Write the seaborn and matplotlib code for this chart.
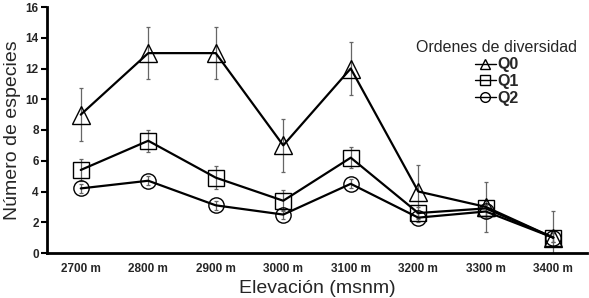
import matplotlib
matplotlib.use("Agg")
import matplotlib.pyplot as plt
from matplotlib.ticker import FixedLocator
import seaborn as sns
import pandas as pd
import numpy as np

elevations = ["2700 m", "2800 m", "2900 m", "3000 m", "3100 m", "3200 m", "3300 m", "3400 m"]
q0 = [9.0, 13.0, 13.0, 7.0, 12.0, 4.0, 3.0, 1.0]
q0_err = [1.7, 1.7, 1.7, 1.7, 1.7, 1.7, 1.65, 1.7]
q1 = [5.4, 7.3, 4.9, 3.4, 6.2, 2.6, 2.9, 1.0]
q1_err = [0.7, 0.7, 0.75, 0.7, 0.7, 0.4, 0.5, 0.3]
q2 = [4.2, 4.7, 3.1, 2.5, 4.5, 2.3, 2.7, 1.0]
q2_err = [0.3, 0.3, 0.3, 0.3, 0.3, 0.3, 0.4, 0.3]
series = ["Q0", "Q1", "Q2"]

sns.set_theme(style="white")
plt.rcParams["font.family"] = ["Liberation Sans", "DejaVu Sans"]

pos = list(range(len(elevations)))
df = pd.concat([
    pd.DataFrame({"pos": pos, "val": v, "serie": s})
    for s, v in zip(series, [q0, q1, q2])
])

fig = plt.figure(figsize=(5.89, 2.98), dpi=100)
ax = fig.add_axes([47/589, 1-253/298, 540/589, 246/298])

for vals, errs in zip([q0, q1, q2], [q0_err, q1_err, q2_err]):
    ax.errorbar(pos, vals, yerr=errs, fmt="none", ecolor="#666666",
                elinewidth=0.9, capsize=1.5, capthick=0.9, zorder=1)

sns.lineplot(data=df, x="pos", y="val", hue="serie", style="serie",
             palette=["black"]*3, markers={"Q0": "^", "Q1": "s", "Q2": "o"},
             dashes=False, linewidth=1.6, markersize=12,
             markerfacecolor="none", markeredgecolor="black",
             markeredgewidth=1.0, ax=ax, zorder=3, legend=True)
msizes = {"^": 13.5, "s": 11, "o": 11}
for line in ax.lines:
    line.set_markerfacecolor("none")
    m = line.get_marker()
    if m in msizes:
        line.set_markersize(msizes[m])

ax.set_xlim(-0.5, 7.5)
ax.set_ylim(0, 16)
ax.set_xticks(pos)
ax.set_xticklabels(elevations, fontsize=8.5, fontweight="bold")
ax.xaxis.set_minor_locator(FixedLocator(np.arange(-0.5, 8.0, 1.0)))
ax.tick_params(axis="x", which="major", length=0, pad=7)
ax.tick_params(axis="x", which="minor", direction="in", length=4, width=1.5, color="black")
ax.set_yticks(range(0, 17, 2))
ax.set_yticklabels([str(v) for v in range(0, 17, 2)], fontsize=8.5, fontweight="bold")
ax.tick_params(axis="y", direction="out", length=4, width=1.5, color="black", left=True, pad=2)

for side in ["top", "right"]:
    ax.spines[side].set_visible(False)
for side in ["left", "bottom"]:
    ax.spines[side].set_color("black")
    ax.spines[side].set_linewidth(2)

ax.set_xlabel("Elevación (msnm)", fontsize=14, labelpad=4)
ax.set_ylabel("Número de especies", fontsize=14, labelpad=3)

handles, labels = ax.get_legend_handles_labels()
leg = ax.legend(handles, labels, title="Ordenes de diversidad", frameon=False,
                loc="upper left", bbox_to_anchor=(405/589, 1-29/298),
                bbox_transform=fig.transFigure,
                prop={"size": 11.5, "weight": "bold"}, title_fontsize=11.5,
                handlelength=1.3, handletextpad=0.1, labelspacing=0.12,
                markerscale=0.6, borderpad=0.2)
for h in leg.legend_handles:
    h.set_markerfacecolor("none")
    h.set_linewidth(1.0)
    h.set_markersize(7)

fig.savefig("out.png", dpi=100)
